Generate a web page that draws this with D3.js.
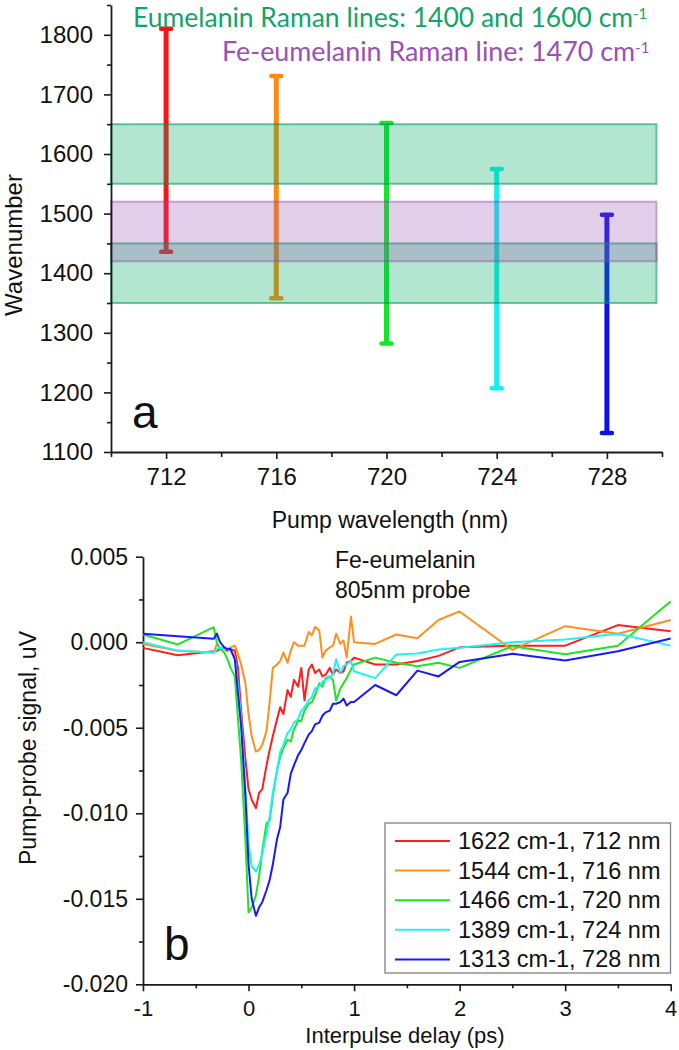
<!DOCTYPE html>
<html><head><meta charset="utf-8">
<script src="https://cdn.jsdelivr.net/npm/d3@7"></script>
<style>
html,body{margin:0;padding:0;background:#fff;}
svg{display:block;}
</style></head>
<body>
<svg id="chart" width="679" height="1050"></svg>
<script>
// ---------- Panel a data ----------
const pumpWavelengths = [712, 716, 720, 724, 728];
const wavenumberLow  = [1436, 1358, 1282, 1207, 1132];
const wavenumberHigh = [1810, 1731, 1652, 1575, 1498];
const barColors = ["#ff1414", "#ff8a10", "#14e628", "#14f0f0", "#1010ee"];
const eumelaninBands = [[1350, 1450], [1550, 1650]];
const feEumelaninBand = [1420, 1520];
const bandSpan = [710, 729.8];
const topYTicks = [1100, 1200, 1300, 1400, 1500, 1600, 1700, 1800];
const topYMinor = [1150, 1250, 1350, 1450, 1550, 1650, 1750, 1850];
const topXTicks = [712, 716, 720, 724, 728];
const topXMinor = [710, 714, 718, 722, 726, 730];

// ---------- Panel b data ----------
const delays = [-1, -0.67, -0.33, -0.3, -0.27, -0.23, -0.2, -0.17, -0.13, -0.1, -0.07, -0.03,
  0, 0.03, 0.07, 0.1, 0.13, 0.17, 0.2, 0.23, 0.27, 0.3, 0.33, 0.37, 0.4, 0.43, 0.47, 0.5,
  0.53, 0.57, 0.6, 0.63, 0.67, 0.7, 0.73, 0.77, 0.8, 0.83, 0.87, 0.9, 0.93, 0.97, 1.0,
  1.2, 1.4, 1.6, 1.8, 2.0, 2.5, 3.0, 3.5, 4.0];
const sig712 = [-0.00033, -0.00076, -0.00053, -0.0005, -0.0004, -0.0004, -0.0005, -0.0004, -0.0005, -0.0015, -0.0040, -0.0068,
  -0.0086, -0.0092, -0.0097, -0.0088, -0.0086, -0.0072, -0.0063, -0.0055, -0.0045, -0.0038, -0.0042, -0.0028, -0.0032, -0.0022, -0.0026, -0.0015,
  -0.0034, -0.0016, -0.0013, -0.0018, -0.0016, -0.0020, -0.0019, -0.0015, -0.0019, -0.0016, -0.0018, -0.0017, -0.0012, -0.0011, -0.0009,
  -0.0013, -0.0013, -0.0011, -0.0008, -0.0003, -0.0002, -0.0002, 0.0010, 0.00064];
const sig716 = [-0.0001, -0.0005, -0.0006, -0.0001, -0.0004, -0.0003, -0.0004, -0.0003, -0.0002, -0.0007, -0.0013, -0.0024,
  -0.0042, -0.0055, -0.0064, -0.0063, -0.0060, -0.0052, -0.0035, -0.0015, -0.0013, -0.0011, -0.0006, -0.0012, -0.0005, 0.0000, -0.0002, -0.0002,
  -0.0002, 0.0006, 0.0004, 0.0009, 0.0007, -0.0009, -0.0005, -0.0003, -0.0002, 0.0005, -0.0001, 0.0001, -0.0009, 0.0015, 0.0000,
  -0.0001, 0.00045, 0.00023, 0.0013, 0.0018, -0.00045, 0.00094, 0.0005, 0.0013];
const sig720 = [0.00045, -0.00013, 0.00088, -0.00004, -0.0004, -0.0006, -0.0010, -0.0015, -0.0020, -0.0045, -0.0069, -0.0115,
  -0.0158, -0.0155, -0.0148, -0.0137, -0.0122, -0.0106, -0.0104, -0.0090, -0.0075, -0.0067, -0.0062, -0.0057, -0.0058, -0.0051, -0.0046, -0.0046,
  -0.0040, -0.0036, -0.0035, -0.0031, -0.0024, -0.0026, -0.0021, -0.0020, -0.0022, -0.0034, -0.0027, -0.0024, -0.0021, -0.0016, -0.0013,
  -0.0009, -0.0012, -0.0014, -0.0012, -0.0015, -0.00023, -0.0007, -0.0002, 0.0024];
const sig724 = [0.0000, -0.00049, -0.00062, -0.0004, -0.0003, -0.0004, -0.0004, -0.0005, -0.0009, -0.0025, -0.0045, -0.0085,
  -0.0118, -0.0131, -0.0134, -0.0130, -0.0124, -0.0112, -0.0102, -0.0088, -0.0075, -0.0064, -0.0060, -0.0053, -0.0051, -0.0047, -0.0045, -0.0040,
  -0.0038, -0.0034, -0.0032, -0.0027, -0.0026, -0.0023, -0.0022, -0.0020, -0.0019, -0.0010, -0.0018, -0.0014, -0.0013, -0.0011, -0.0017,
  -0.0021, -0.00072, -0.00066, -0.00043, -0.00033, 0.0000, 0.00016, 0.0005, -0.0002];
const sig728 = [0.0005, 0.00035, 0.0002, 0.0005, 0.0000, -0.0003, -0.0004, -0.0004, -0.0010, -0.0030, -0.0049, -0.0090,
  -0.0130, -0.0150, -0.0160, -0.0155, -0.0152, -0.0145, -0.0139, -0.0130, -0.0115, -0.0108, -0.0092, -0.0088, -0.0077, -0.0072, -0.0066, -0.0063,
  -0.0059, -0.0054, -0.0052, -0.0048, -0.0047, -0.0043, -0.0041, -0.0040, -0.0036, -0.0036, -0.0035, -0.0033, -0.0037, -0.0035, -0.0035,
  -0.0025, -0.0031, -0.00166, -0.0020, -0.00115, -0.00068, -0.00107, -0.00053, 0.00022];
const seriesLabels = ["1622 cm-1, 712 nm", "1544 cm-1, 716 nm", "1466 cm-1, 720 nm", "1389 cm-1, 724 nm", "1313 cm-1, 728 nm"];
const lineColors = ["#ff1e1e", "#ff9020", "#1ee61e", "#22f2f2", "#1818ff"];
const botYTicks = [0.005, 0, -0.005, -0.010, -0.015, -0.020];
const botYMinor = [0.0025, -0.0025, -0.0075, -0.0125, -0.0175];
const botXTicks = [-1, 0, 1, 2, 3, 4];
const botXMinor = [-0.5, 0.5, 1.5, 2.5, 3.5];

const FONT = "'Liberation Sans', Arial, Helvetica, sans-serif";
const AXC = "#1a1a1a";
const svg = d3.select("#chart");

function styleAxis(g, fs) {
  g.selectAll(".domain").attr("stroke", AXC).attr("stroke-width", 1.8);
  g.selectAll(".tick line").attr("stroke", AXC).attr("stroke-width", 1.6);
  g.selectAll(".tick text").attr("fill", "#111").style("font-family", FONT).style("font-size", fs + "px");
}

// ================= Panel a =================
const xa = d3.scaleLinear().domain([710, 730]).range([111, 662]);
const ya = d3.scaleLinear().domain([1100, 1850]).range([452, 5]);

// error bars
const gBars = svg.append("g");
pumpWavelengths.forEach((w, i) => {
  const cx = xa(w);
  gBars.append("line").attr("x1", cx).attr("x2", cx)
    .attr("y1", ya(wavenumberLow[i])).attr("y2", ya(wavenumberHigh[i]))
    .attr("stroke", barColors[i]).attr("stroke-width", 5);
  [wavenumberLow[i], wavenumberHigh[i]].forEach(v => {
    gBars.append("line").attr("x1", cx - 5).attr("x2", cx + 5)
      .attr("y1", ya(v)).attr("y2", ya(v))
      .attr("stroke", barColors[i]).attr("stroke-width", 4.5).attr("stroke-linecap", "round");
  });
});

// bands
eumelaninBands.forEach(b => {
  svg.append("rect").attr("x", xa(bandSpan[0])).attr("width", xa(bandSpan[1]) - xa(bandSpan[0]))
    .attr("y", ya(b[1])).attr("height", ya(b[0]) - ya(b[1]))
    .attr("fill", "rgba(0,172,98,0.30)").attr("stroke", "rgba(0,150,90,0.55)").attr("stroke-width", 2);
});
svg.append("rect").attr("x", xa(bandSpan[0])).attr("width", xa(bandSpan[1]) - xa(bandSpan[0]))
  .attr("y", ya(feEumelaninBand[1])).attr("height", ya(feEumelaninBand[0]) - ya(feEumelaninBand[1]))
  .attr("fill", "rgba(152,85,178,0.28)").attr("stroke", "rgba(140,70,170,0.45)").attr("stroke-width", 2);

// axes a
const gya = svg.append("g").attr("transform", `translate(${xa(710)},0)`)
  .call(d3.axisLeft(ya).tickValues(topYTicks).tickSize(7).tickPadding(11).tickSizeOuter(0).tickFormat(d3.format("d")));
styleAxis(gya, 24);
const gyam = svg.append("g").attr("transform", `translate(${xa(710)},0)`)
  .call(d3.axisLeft(ya).tickValues(topYMinor).tickSize(4).tickFormat(""));
gyam.select(".domain").remove();
styleAxis(gyam, 24);
const gxa = svg.append("g").attr("transform", `translate(0,${ya(1100)})`)
  .call(d3.axisBottom(xa).tickValues(topXTicks).tickSize(7).tickPadding(9).tickSizeOuter(0).tickFormat(d3.format("d")));
styleAxis(gxa, 24);
const gxam = svg.append("g").attr("transform", `translate(0,${ya(1100)})`)
  .call(d3.axisBottom(xa).tickValues(topXMinor).tickSize(5).tickFormat(""));
gxam.select(".domain").remove();
styleAxis(gxam, 24);

// titles with superscript
function supText(x, y, main, sup, color, targetW) {
  const t = svg.append("text").attr("x", x).attr("y", y).attr("fill", color)
    .style("font-family", "Lato, 'Open Sans', sans-serif").style("font-size", "24px");
  t.append("tspan").text(main);
  t.append("tspan").attr("dy", -8).style("font-size", "14px").text(sup);
  const w = t.node().getComputedTextLength();
  const f = 24 * targetW / w;
  t.style("font-size", f + "px");
  t.select("tspan:nth-child(2)").style("font-size", (f * 0.56) + "px").attr("dy", -f * 0.3);
  return t;
}
supText(133, 27, "Eumelanin Raman lines: 1400 and 1600 cm", "-1", "#12a567", 515);
supText(222, 61, "Fe-eumelanin Raman line: 1470 cm", "-1", "#9a50b4", 428);

svg.append("text").attr("transform", "translate(22,245) rotate(-90)").attr("text-anchor", "middle")
  .style("font-family", FONT).style("font-size", "24px").attr("fill", "#111").text("Wavenumber");
svg.append("text").attr("x", 390).attr("y", 528).attr("text-anchor", "middle")
  .style("font-family", FONT).style("font-size", "23px").attr("fill", "#111").text("Pump wavelength (nm)");
svg.append("text").attr("x", 132).attr("y", 428)
  .style("font-family", FONT).style("font-size", "46px").attr("fill", "#111").text("a");

// ================= Panel b =================
const xb = d3.scaleLinear().domain([-1, 4]).range([143, 670.7]);
const yb = d3.scaleLinear().domain([-0.020, 0.005]).range([984.3, 556.7]);
const hy = s => s.replace(/\u2212/g, "-");

const gyb = svg.append("g").attr("transform", `translate(${xb(-1)},0)`)
  .call(d3.axisLeft(yb).tickValues(botYTicks).tickSize(7).tickPadding(8).tickSizeOuter(0)
    .tickFormat(d => hy(d3.format(".3f")(d))));
styleAxis(gyb, 23);
const gybm = svg.append("g").attr("transform", `translate(${xb(-1)},0)`)
  .call(d3.axisLeft(yb).tickValues(botYMinor).tickSize(4).tickFormat(""));
gybm.select(".domain").remove();
styleAxis(gybm, 23);
const gxb = svg.append("g").attr("transform", `translate(0,${yb(-0.020)})`)
  .call(d3.axisBottom(xb).tickValues(botXTicks).tickSize(7).tickPadding(9).tickSizeOuter(0)
    .tickFormat(d => hy(d3.format("d")(d))));
styleAxis(gxb, 22);
const gxbm = svg.append("g").attr("transform", `translate(0,${yb(-0.020)})`)
  .call(d3.axisBottom(xb).tickValues(botXMinor).tickSize(4).tickFormat(""));
gxbm.select(".domain").remove();
styleAxis(gxbm, 22);

const allSeries = [sig712, sig716, sig720, sig724, sig728];
const line = d3.line().x((d, i) => xb(delays[i])).y(d => yb(d));
allSeries.forEach((s, k) => {
  svg.append("path").datum(s).attr("d", line).attr("fill", "none")
    .attr("stroke", lineColors[k]).attr("stroke-width", 2).attr("stroke-linejoin", "round");
});

// annotation
svg.append("text").attr("x", 335).attr("y", 568).style("font-family", FONT).style("font-size", "23px")
  .attr("fill", "#111").text("Fe-eumelanin");
svg.append("text").attr("x", 335).attr("y", 598).style("font-family", FONT).style("font-size", "23px")
  .attr("fill", "#111").text("805nm probe");

// legend
const lg = svg.append("g");
lg.append("rect").attr("x", 385).attr("y", 823).attr("width", 285.5).attr("height", 150)
  .attr("fill", "#fff").attr("stroke", "#808080").attr("stroke-width", 1.3);
seriesLabels.forEach((lab, k) => {
  const cy = 841 + k * 29.6;
  lg.append("line").attr("x1", 395).attr("x2", 450).attr("y1", cy).attr("y2", cy)
    .attr("stroke", lineColors[k]).attr("stroke-width", 2);
  lg.append("text").attr("x", 458).attr("y", cy + 8).style("font-family", FONT).style("font-size", "23.5px")
    .attr("fill", "#111").text(lab);
});

svg.append("text").attr("transform", "translate(36,748) rotate(-90)").attr("text-anchor", "middle")
  .style("font-family", FONT).style("font-size", "23px").attr("fill", "#111").text("Pump-probe signal, uV");
svg.append("text").attr("x", 405).attr("y", 1043).attr("text-anchor", "middle")
  .style("font-family", FONT).style("font-size", "22px").attr("fill", "#111").text("Interpulse delay (ps)");
svg.append("text").attr("x", 164).attr("y", 960)
  .style("font-family", FONT).style("font-size", "46px").attr("fill", "#111").text("b");
</script>
</body></html>
